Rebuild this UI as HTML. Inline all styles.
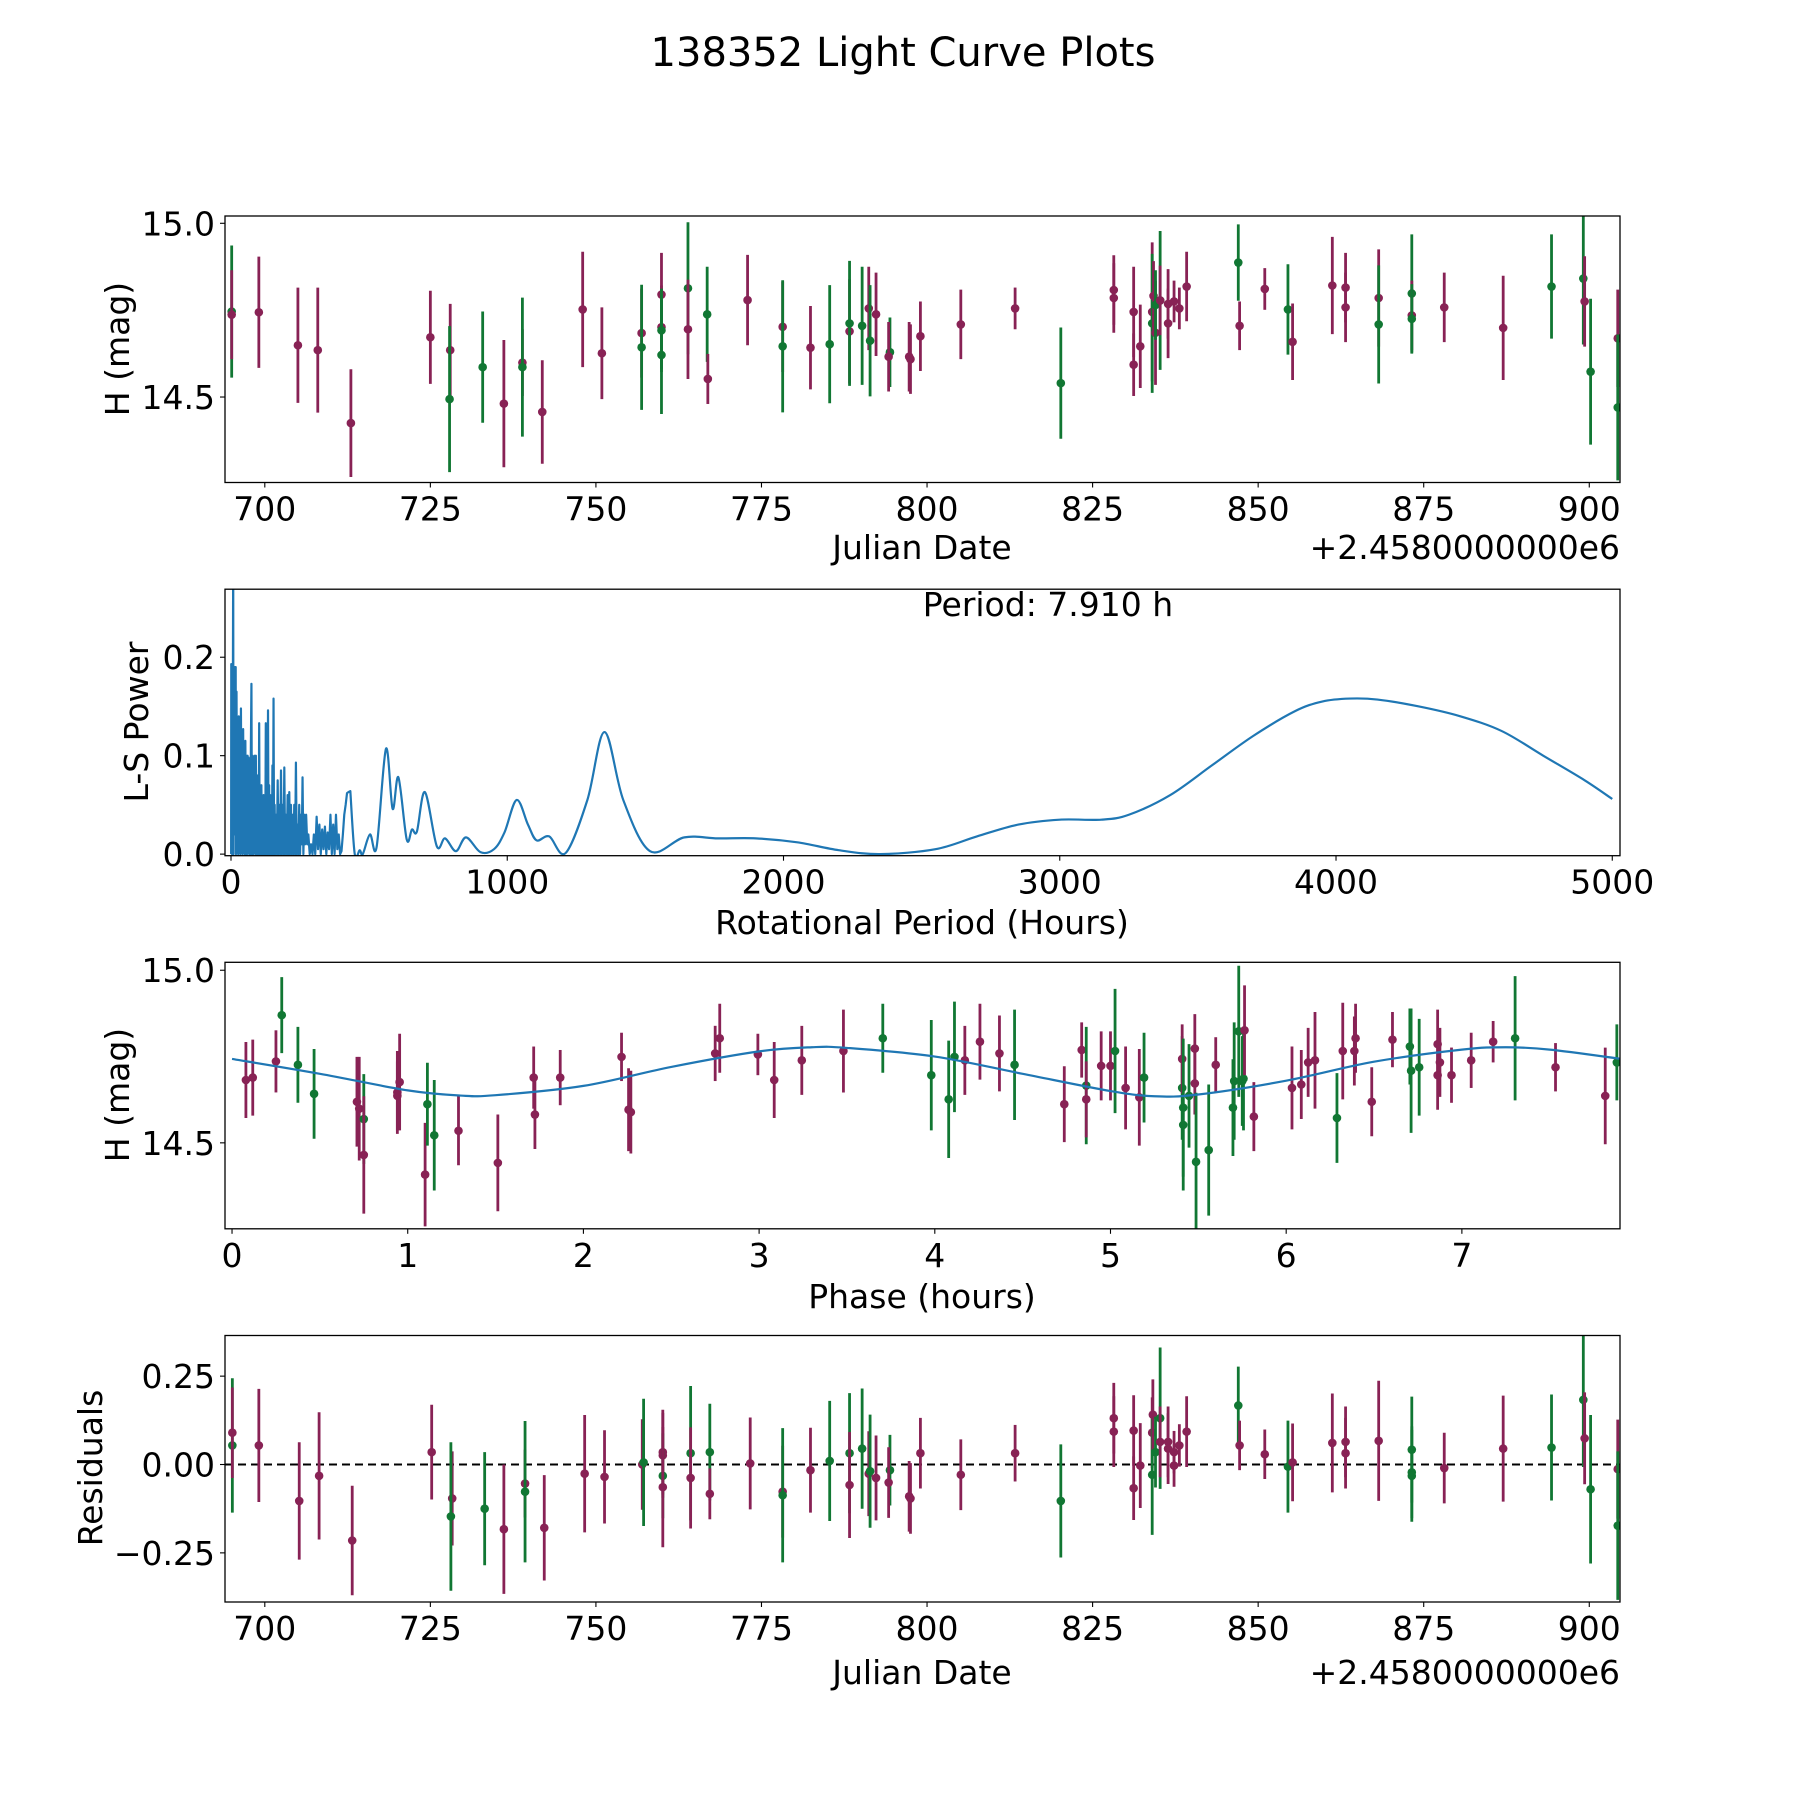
<!DOCTYPE html>
<html><head><meta charset="utf-8"><style>
html,body{margin:0;padding:0;background:#fff;}
svg{display:block;font-family:"DejaVu Sans","Liberation Sans",sans-serif;}
</style></head><body>
<svg id="fig" width="1800" height="1800" viewBox="0 0 1800 1800" xmlns="http://www.w3.org/2000/svg">
<rect width="1800" height="1800" fill="#fff"/>
<text x="903" y="66" font-size="40" text-anchor="middle">138352 Light Curve Plots</text>
</svg>
<script>
// ---------- Panel 1 data ----------
const lcDates = [695.0,695.0,699.1,705.0,708.0,713.0,725.0,728.0,727.9,732.9,736.1,738.9,738.9,741.9,748.0,750.9,756.9,756.9,759.9,759.9,759.9,759.9,763.9,763.9,766.8,766.9,772.9,778.2,778.2,782.4,785.3,788.3,788.3,790.2,791.2,791.4,792.3,794.4,794.2,797.3,797.5,799.0,805.1,813.3,820.2,828.2,828.2,831.2,831.2,832.2,834.0,834.0,834.2,834.5,834.5,835.2,835.2,836.4,836.4,837.3,838.1,839.2,847.0,847.2,851.0,854.5,855.2,861.2,863.2,863.2,868.2,868.2,873.2,873.2,873.2,878.1,887.0,894.3,899.1,899.3,900.2,904.3,904.3];
const lcMags = [14.746,14.737,14.744,14.649,14.635,14.425,14.672,14.635,14.494,14.586,14.481,14.599,14.586,14.457,14.752,14.626,14.684,14.643,14.795,14.701,14.692,14.621,14.813,14.695,14.738,14.552,14.779,14.702,14.646,14.642,14.652,14.689,14.712,14.705,14.755,14.662,14.738,14.629,14.616,14.616,14.609,14.675,14.709,14.755,14.540,14.808,14.785,14.745,14.593,14.646,14.745,14.712,14.791,14.685,14.765,14.778,14.778,14.768,14.712,14.775,14.755,14.818,14.887,14.705,14.811,14.752,14.659,14.821,14.815,14.758,14.785,14.709,14.798,14.735,14.725,14.758,14.699,14.818,14.841,14.775,14.573,14.669,14.470];
const lcErrs = [0.19,0.128,0.16,0.166,0.18,0.155,0.134,0.133,0.21,0.16,0.183,0.096,0.2,0.149,0.166,0.132,0.128,0.18,0.12,0.12,0.12,0.17,0.19,0.143,0.137,0.072,0.13,0.13,0.19,0.12,0.17,0.15,0.18,0.17,0.12,0.16,0.12,0.1,0.1,0.1,0.1,0.1,0.1,0.06,0.16,0.1,0.1,0.13,0.09,0.12,0.2,0.2,0.1,0.15,0.1,0.2,0.1,0.1,0.1,0.06,0.06,0.1,0.11,0.07,0.06,0.13,0.11,0.14,0.1,0.1,0.14,0.17,0.17,0.1,0.1,0.1,0.15,0.15,0.19,0.13,0.21,0.14,0.21];
const lcBands = "gpppppppgg"+"ppgppppgpp"+"gggpgpp"+"pgpgpggpgp"+"gppppppg"+"ppppppgppg"+"gpppppp"+"gppgpppppg"+"gpgppggpgpg";
// ---------- Panel 2 data: [period hours, L-S power] ----------
const lsNoise = [[0.5,0],[1,0.193],[2,0.02],[3,0.15],[4,0],[5,0.12],[6,0.01],[7,0.19],[8,0.31],[9,0],[10,0.17],[12,0.02],[14,0.19],[16,0.03],[17,0.19],[18,0],[20,0.165],[22,0.01],[24,0.13],[26,0],[28,0.14],[30,0.01],[32,0.135],[34,0],[36,0.148],[38,0.02],[40,0.12],[42,0],[44,0.127],[46,0.01],[48,0.11],[50,0],[52,0.115],[54,0],[56,0.1],[58,0],[60,0.1],[62,0.01],[64,0.098],[66,0],[68,0.09],[70,0],[72,0.11],[74,0.173],[76,0],[78,0.1],[80,0],[82,0.09],[84,0.01],[86,0.1],[88,0],[90,0.1],[92,0],[94,0.08],[96,0],[98,0.07],[100,0],[102,0.133],[104,0],[106,0.06],[108,0],[110,0.07],[112,0],[114,0.05],[116,0],[118,0.06],[120,0],[122,0.05],[124,0],[126,0.133],[128,0],[130,0.1],[132,0],[134,0.146],[136,0],[138,0.07],[140,0],[142,0.06],[144,0],[146,0.05],[148,0],[150,0.09],[152,0],[154,0.158],[156,0],[158,0.05],[160,0],[163,0.04],[166,0],[169,0.075],[172,0],[175,0.05],[178,0],[181,0.085],[184,0],[187,0.05],[190,0],[193,0.088],[196,0],[199,0.04],[202,0],[205,0.06],[208,0],[211,0.063],[214,0],[217,0.05],[220,0],[223,0.04],[226,0],[229,0.05],[232,0],[235,0.093],[238,0],[241,0.03],[244,0],[247,0.05],[250,0],[253,0.04],[256,0.01],[259,0.078],[262,0],[265,0.04],[268,0.01],[272,0.04],[276,0.01],[280,0.02],[285,0],[290,0.01],[295,0],[300,0.02],[305,0],[310,0.038],[315,0.005],[320,0.03],[325,0],[330,0.025],[335,0.005],[340,0.028],[345,0],[350,0.022],[355,0.005],[360,0.04],[365,0],[370,0.03],[375,0],[380,0.04],[385,0.005],[390,0.02],[395,0],[400,0.003],[405,0.02],[410,0.04],[415,0.05],[420,0.062],[425,0.063],[432,0.064]];
const lsSmooth = [[432,0.064],[448,0],[466,0.004],[477,0],[503,0.02],[527,0.007],[561,0.107],[585,0.046],[606,0.078],[636,0.015],[655,0.025],[673,0.023],[702,0.063],[745,0.008],[775,0.016],[814,0.003],[851,0.017],[903,0.002],[952,0.005],[990,0.022],[1034,0.055],[1075,0.03],[1106,0.014],[1152,0.018],[1211,0.001],[1290,0.055],[1352,0.124],[1420,0.055],[1517,0.003],[1641,0.017],[1763,0.016],[1900,0.016],[2050,0.012],[2200,0.004],[2350,0],[2550,0.005],[2700,0.018],[2850,0.03],[3000,0.035],[3150,0.035],[3250,0.04],[3400,0.06],[3550,0.09],[3700,0.12],[3850,0.145],[3950,0.155],[4050,0.158],[4150,0.157],[4300,0.15],[4450,0.14],[4600,0.125],[4750,0.1],[4900,0.075],[5000,0.056]];
// ---------- Panel 3 data ----------
const phPhases = [0.079,0.118,0.283,0.25,0.375,0.467,0.711,0.724,0.75,0.75,0.941,0.941,0.954,1.099,1.112,1.151,1.289,1.513,1.717,1.724,1.868,2.217,2.257,2.270,2.75,2.776,2.993,3.086,3.243,3.48,3.704,3.980,4.079,4.112,4.171,4.257,4.368,4.454,4.737,4.836,4.862,4.862,4.947,5.0,5.026,5.086,5.164,5.191,5.408,5.414,5.408,5.414,5.447,5.480,5.480,5.487,5.559,5.599,5.697,5.704,5.730,5.750,5.757,5.763,5.816,6.033,6.086,6.125,6.164,6.289,6.322,6.388,6.395,6.487,6.605,6.704,6.711,6.757,6.862,6.862,6.875,6.941,7.053,7.178,7.303,7.533,7.816,7.882];
const phMags = [14.682,14.689,14.870,14.736,14.726,14.642,14.619,14.599,14.569,14.465,14.646,14.636,14.676,14.408,14.612,14.522,14.535,14.442,14.689,14.582,14.689,14.749,14.596,14.589,14.759,14.803,14.756,14.682,14.739,14.766,14.803,14.696,14.626,14.749,14.739,14.793,14.759,14.726,14.612,14.769,14.666,14.626,14.723,14.723,14.766,14.659,14.632,14.689,14.659,14.552,14.743,14.602,14.636,14.672,14.773,14.445,14.479,14.726,14.602,14.679,14.823,14.679,14.686,14.826,14.576,14.659,14.669,14.733,14.739,14.572,14.766,14.766,14.803,14.619,14.799,14.779,14.709,14.719,14.786,14.696,14.733,14.696,14.739,14.793,14.803,14.719,14.636,14.733];
const phErrs = [0.11,0.11,0.11,0.09,0.11,0.13,0.13,0.15,0.13,0.17,0.12,0.1,0.14,0.15,0.12,0.16,0.1,0.14,0.09,0.1,0.08,0.07,0.12,0.12,0.08,0.1,0.06,0.11,0.1,0.12,0.1,0.16,0.17,0.16,0.1,0.11,0.11,0.16,0.11,0.08,0.17,0.11,0.1,0.1,0.18,0.12,0.14,0.13,0.15,0.19,0.1,0.2,0.15,0.09,0.1,0.2,0.19,0.08,0.14,0.17,0.19,0.13,0.15,0.13,0.1,0.12,0.1,0.1,0.14,0.13,0.14,0.1,0.1,0.1,0.08,0.11,0.18,0.14,0.1,0.1,0.1,0.08,0.08,0.06,0.18,0.07,0.14,0.11];
const phBands = "ppgpggppgp"+"ppppggpppp"+"pppppppppp"+"ggggpppgpp"+"gpppgppggg"+"pggppggpgg"+"gggppppppg"+"pppppgggpp"+"ppppgppg";
const fitPhases = [0,0.5,1.0,1.3,1.5,2.0,2.5,3.0,3.3,3.5,4.0,4.5,5.0,5.25,5.5,6.0,6.5,7.0,7.25,7.5,7.91];
const fitMags = [14.743,14.70,14.652,14.637,14.638,14.665,14.72,14.765,14.777,14.775,14.75,14.70,14.65,14.635,14.64,14.68,14.735,14.77,14.777,14.77,14.743];
// ---------- Panel 4 data ----------
const resDates = [695.1,695.1,699.1,705.2,708.2,713.2,725.2,728.3,728.1,733.2,736.1,739.3,739.3,742.2,748.3,751.3,757.0,757.2,760.1,760.1,760.1,760.1,764.3,764.3,767.2,767.2,773.3,778.2,778.2,782.4,785.3,788.3,788.3,790.2,791.2,791.4,792.3,794.4,794.2,797.3,797.5,799.0,805.1,813.3,820.2,828.2,828.2,831.2,831.2,832.2,834.0,834.0,834.1,834.5,835.2,835.2,836.4,836.4,837.3,837.3,838.1,839.2,847.0,847.2,851.0,854.5,855.2,861.2,863.2,863.2,868.2,873.2,873.2,873.2,878.1,887.0,894.3,899.1,899.3,900.2,904.3,904.3];
const resVals = [0.054,0.09,0.054,-0.103,-0.032,-0.215,0.035,-0.096,-0.147,-0.125,-0.183,-0.054,-0.077,-0.179,-0.026,-0.035,0.0,0.006,0.035,0.026,-0.032,-0.064,0.032,-0.038,0.035,-0.083,0.003,-0.077,-0.087,-0.016,0.01,0.032,-0.058,0.045,-0.026,-0.019,-0.038,-0.016,-0.051,-0.09,-0.096,0.032,-0.029,0.032,-0.103,0.131,0.093,0.096,-0.067,-0.003,0.09,-0.029,0.141,0.035,0.131,0.064,0.064,0.045,-0.003,0.035,0.054,0.093,0.167,0.054,0.029,-0.006,0.006,0.061,0.064,0.032,0.067,0.042,-0.022,-0.032,-0.01,0.045,0.048,0.183,0.074,-0.07,-0.013,-0.173];
const resErrs = [0.19,0.128,0.16,0.166,0.18,0.155,0.134,0.133,0.21,0.16,0.183,0.096,0.2,0.149,0.166,0.132,0.128,0.18,0.12,0.12,0.12,0.17,0.19,0.143,0.137,0.072,0.13,0.13,0.19,0.12,0.17,0.17,0.15,0.17,0.12,0.16,0.12,0.1,0.1,0.1,0.1,0.1,0.1,0.08,0.16,0.1,0.1,0.1,0.09,0.12,0.1,0.17,0.1,0.1,0.2,0.1,0.1,0.1,0.06,0.06,0.06,0.1,0.11,0.07,0.07,0.13,0.11,0.14,0.1,0.1,0.17,0.15,0.13,0.13,0.1,0.15,0.15,0.19,0.13,0.21,0.14,0.21];
const resBands = "gpppppppgg"+"ppgppppgpp"+"gpgpgpppgp"+"ggpgpgpgpp"+"ppppgppppp"+"pgpggppppp"+"ppgppgpppp"+"pgggppggpgpg";
const jdTicks = [700,725,750,775,800,825,850,875,900];
const magTicks = [14.5,15.0];
const magTickLabels = ["14.5","15.0"];
const lsXTicks = [0,1000,2000,3000,4000,5000];
const lsYTicks = [0,0.1,0.2];
const lsYTickLabels = ["0.0","0.1","0.2"];
const phTicks = [0,1,2,3,4,5,6,7];
const resTicks = [-0.25,0,0.25];
const resTickLabels = ["\u22120.25","0.00","0.25"];

const NS = "http://www.w3.org/2000/svg";
const svg = document.getElementById('fig');
const PURPLE = "#882255", GREEN = "#117733", BLUE = "#1f77b4";
function el(tag, attrs, parent){ const e = document.createElementNS(NS, tag); for (const k in attrs) e.setAttribute(k, attrs[k]); (parent||svg).appendChild(e); return e; }
function mkAxis(top, bottom, xmin, xmax, ymin, ymax){
  const L=225,R=1620;
  return {L,R,T:top,B:bottom,
    x:v=>L+(v-xmin)/(xmax-xmin)*(R-L),
    y:v=>bottom-(v-ymin)/(ymax-ymin)*(bottom-top)};
}
function frameAndTicks(ax, name, xt, xl, yt, yl){
  const g = el('g',{});
  
  
  xt.forEach((v,i)=>{
    const x=ax.x(v);
    const t=el('line',{x1:x,x2:x,y1:ax.B,y2:ax.B+5,stroke:'#000','stroke-width':1.1},g);
    
    
    const tx=el('text',{x:x,y:ax.B+38,'font-size':33,'text-anchor':'middle'},g);
    tx.textContent=xl[i];
    
    
  });
  yt.forEach((v,i)=>{
    const y=ax.y(v);
    const t=el('line',{x1:ax.L-5,x2:ax.L,y1:y,y2:y,stroke:'#000','stroke-width':1.1},g);
    
    
    const tx=el('text',{x:ax.L-10,y:y+12,'font-size':33,'text-anchor':'end'},g);
    tx.textContent=yl[i];
    
    
  });
  const r=el('rect',{x:ax.L,y:ax.T,width:ax.R-ax.L,height:ax.B-ax.T,fill:'none',stroke:'#000','stroke-width':1.3},g);
  
  
}
function clip(ax,id){
  const c=el('clipPath',{id:id}); el('rect',{x:ax.L,y:ax.T,width:ax.R-ax.L,height:ax.B-ax.T},c);
  return el('g',{'clip-path':'url(#'+id+')'});
}
function errPoints(ax, g, xs, ys, es, bands, name){
  for(let i=0;i<xs.length;i++){
    const c = bands[i]==='g'?GREEN:PURPLE;
    const x=ax.x(xs[i]);
    const e = es[i]===undefined?0.12:es[i];
    const l=el('line',{x1:x,x2:x,y1:ax.y(ys[i]+e),y2:ax.y(ys[i]-e),stroke:c,'stroke-width':2.8},g);
    
    
    const p=el('circle',{cx:x,cy:ax.y(ys[i]),r:4.3,fill:c},g);
    
    
  }
}
function label(x,y,txt,name,rot){
  const t=el('text',{x:x,y:y,'font-size':33,'text-anchor':'middle'});
  if(rot) t.setAttribute('transform','rotate(-90 '+x+' '+y+')');
  t.textContent=txt;
  
  
}
function smoothPath(pts){
  let d='M'+pts[0][0]+','+pts[0][1];
  for(let i=0;i<pts.length-1;i++){
    const p0=pts[Math.max(0,i-1)],p1=pts[i],p2=pts[i+1],p3=pts[Math.min(pts.length-1,i+2)];
    const c1=[p1[0]+(p2[0]-p0[0])/6,p1[1]+(p2[1]-p0[1])/6];
    const c2=[p2[0]-(p3[0]-p1[0])/6,p2[1]-(p3[1]-p1[1])/6];
    d+=' C'+c1[0]+','+c1[1]+' '+c2[0]+','+c2[1]+' '+p2[0]+','+p2[1];
  }
  return d;
}
const jdLabels = jdTicks.map(String);

// Panel 1
const a1 = mkAxis(216, 482.5, 693.99, 904.64, 14.254, 15.021);
const g1 = clip(a1,'c1');


errPoints(a1,g1,lcDates,lcMags,lcErrs,lcBands,'lc');
frameAndTicks(a1,'light-curve',jdTicks,jdLabels,magTicks,magTickLabels);
label(922,559,'Julian Date','lc-x-axis-title');
(function(){const t=el('text',{x:1620,y:559,'font-size':33,'text-anchor':'end'});t.textContent='+2.4580000000e6';})();
label(129,349,'H (mag)','lc-y-axis-title',true);

// Panel 2
const a2 = mkAxis(589.2, 855.7, -21.7, 5028, -0.0016, 0.2691);
const g2 = clip(a2,'c2');


(function(){
  const noise = lsNoise.map(p=>[a2.x(p[0]), a2.y(p[1])]);
  const smooth = lsSmooth.map(p=>[a2.x(p[0]), a2.y(p[1])]);
  let d='M'+noise.map(p=>p[0]+','+p[1]).join(' L');
  d+=' '+smoothPath(smooth).replace(/^M[^ ]+/,'');
  const l=el('path',{d:d,fill:'none',stroke:BLUE,'stroke-width':2.2,'stroke-linejoin':'round'},g2);
  
  
})();
frameAndTicks(a2,'periodogram',lsXTicks,lsXTicks.map(String),lsYTicks,lsYTickLabels);
label(922,934,'Rotational Period (Hours)','ls-x-axis-title');
label(148,722,'L-S Power','ls-y-axis-title',true);
(function(){const t=el('text',{x:1048,y:616,'font-size':33,'text-anchor':'middle'});t.textContent='Period: 7.910 h';})();

// Panel 3
const a3 = mkAxis(962.3, 1228.8, -0.04, 7.90, 14.251, 15.023);
const g3 = clip(a3,'c3');


errPoints(a3,g3,phPhases,phMags,phErrs,phBands,'phase');
(function(){
  const pts=fitPhases.map((v,i)=>[a3.x(v),a3.y(fitMags[i])]);
  const l=el('path',{d:smoothPath(pts),fill:'none',stroke:BLUE,'stroke-width':2.2},g3);
  
  
})();
frameAndTicks(a3,'phase',phTicks,phTicks.map(String),magTicks,magTickLabels);
label(922,1308,'Phase (hours)','phase-x-axis-title');
label(129,1095,'H (mag)','phase-y-axis-title',true);

// Panel 4
const a4 = mkAxis(1335.5, 1602, 693.99, 904.64, -0.389, 0.365);
const g4 = clip(a4,'c4');


(function(){const l=el('line',{x1:a4.L,x2:a4.R,y1:a4.y(0),y2:a4.y(0),stroke:'#000','stroke-width':2,'stroke-dasharray':'8,5'},g4);})();
errPoints(a4,g4,resDates,resVals,resErrs,resBands,'residual');
frameAndTicks(a4,'residuals',jdTicks,jdLabels,resTicks,resTickLabels);
label(922,1684,'Julian Date','res-x-axis-title');
(function(){const t=el('text',{x:1620,y:1684,'font-size':33,'text-anchor':'end'});t.textContent='+2.4580000000e6';})();
label(102,1468,'Residuals','res-y-axis-title',true);
</script>
</body></html>
